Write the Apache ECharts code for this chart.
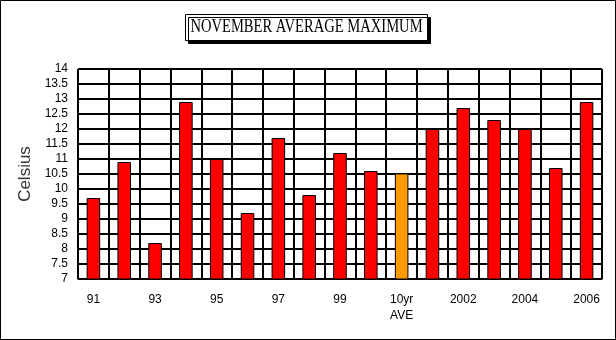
<!DOCTYPE html>
<html>
<head>
<meta charset="utf-8">
<script src="https://cdn.jsdelivr.net/npm/echarts@6/dist/echarts.min.js"></script>
<style>
  html, body { margin: 0; padding: 0; background: #fff; }
  #chart { width: 616px; height: 340px; }
</style>
</head>
<body>
<div id="chart"></div>
<script>
// November average maximum temperature by year, plus the 10-year average
const categories = ['91', '92', '93', '94', '95', '96', '97', '98', '99', '2000',
  '10yr\nAVE', '2001', '2002', '2003', '2004', '2005', '2006'];
const maxTemps = [9.7, 10.9, 8.2, 12.9, 11.0, 9.2, 11.7, 9.8, 11.2, 10.6,
  10.52, 12.0, 12.7, 12.3, 12.0, 10.7, 12.9];
const averageIndex = 10;
const yTicks = { min: 7, max: 14, step: 0.5 };
const chartTitle = 'NOVEMBER AVERAGE MAXIMUM';

const chart = echarts.init(document.getElementById('chart'), null, { renderer: 'canvas' });

chart.setOption({
  animation: false,
  backgroundColor: '#fff',
  graphic: [
    {
      // outer frame
      type: 'rect',
      shape: { x: 0.5, y: 0.5, width: 615, height: 339 },
      style: { fill: 'none', stroke: '#000', lineWidth: 1 },
      silent: true
    },
    {
      // boxed title with a hard drop shadow
      type: 'rect',
      shape: { x: 185.5, y: 14.5, width: 242, height: 26 },
      style: {
        fill: '#fff', stroke: '#000', lineWidth: 1,
        shadowColor: '#000', shadowOffsetX: 3, shadowOffsetY: 3, shadowBlur: 0
      },
      silent: true
    },
    {
      type: 'text',
      x: 306.5,
      y: 27.5,
      scaleX: 0.81,
      style: {
        text: chartTitle,
        font: '18px "Liberation Serif"',
        fill: '#000',
        align: 'center',
        verticalAlign: 'middle'
      },
      silent: true
    }
  ],
  grid: { left: 78, right: 14, top: 69, bottom: 61 },
  xAxis: {
    type: 'category',
    data: categories,
    boundaryGap: true,
    axisLine: { show: true, lineStyle: { color: '#000', width: 1 } },
    axisTick: { show: true, inside: true, length: 3, alignWithLabel: true, interval: 0,
      lineStyle: { color: '#000' } },
    axisLabel: {
      interval: 1,
      margin: 13,
      fontFamily: 'Liberation Sans',
      fontSize: 12,
      color: '#000',
      lineHeight: 16
    },
    splitLine: { show: true, interval: 0, lineStyle: { color: '#000', width: 2 } }
  },
  yAxis: {
    type: 'value',
    min: yTicks.min,
    max: yTicks.max,
    interval: yTicks.step,
    name: 'Celsius',
    nameLocation: 'middle',
    nameRotate: 90,
    nameGap: 40,
    nameTextStyle: { fontFamily: 'Liberation Sans', fontSize: 17, color: '#333' },
    axisLine: { show: true, lineStyle: { color: '#000', width: 1 } },
    axisTick: { show: false },
    axisLabel: {
      margin: 10,
      fontFamily: 'Liberation Sans',
      fontSize: 12,
      color: '#000'
    },
    splitLine: { show: true, lineStyle: { color: '#000', width: 2 } }
  },
  series: [{
    type: 'bar',
    barWidth: '44%',
    data: maxTemps.map((v, i) => ({
      value: v,
      itemStyle: { color: i === averageIndex ? '#FF9900' : '#FF0000' }
    })),
    itemStyle: { borderColor: '#000', borderWidth: 1 }
  }]
});
</script>
</body>
</html>
